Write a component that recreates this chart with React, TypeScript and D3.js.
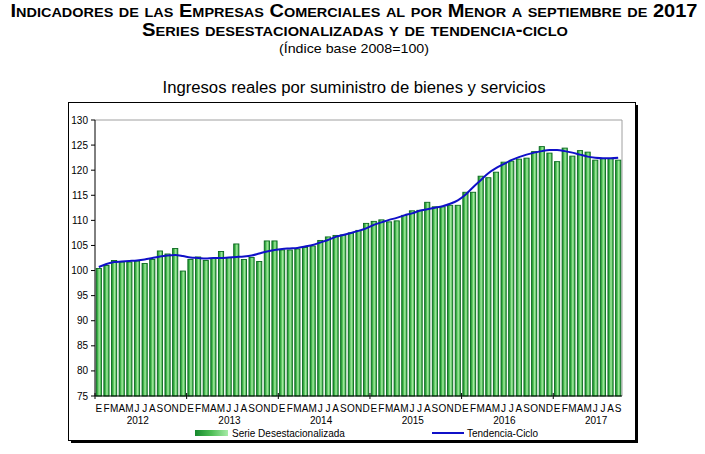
import React from 'react';
import * as d3 from 'd3';

const years = ['2012', '2013', '2014', '2015', '2016', '2017'];
const monthLetters = ['E', 'F', 'M', 'A', 'M', 'J', 'J', 'A', 'S', 'O', 'N', 'D'];
const yTicks = [75, 80, 85, 90, 95, 100, 105, 110, 115, 120, 125, 130];

// Serie desestacionalizada, enero 2012 - septiembre 2017
const serieDesest = [
  100.4, 101.0, 102.0, 101.7, 101.7, 101.9, 101.4, 102.2, 103.9, 103.3, 104.4, 99.9,
  102.2, 102.7, 102.0, 102.4, 103.8, 102.6, 105.3, 102.2, 102.6, 101.8, 105.9, 105.9,
  104.1, 104.1, 104.3, 104.6, 104.9, 106.0, 106.7, 107.0, 107.1, 107.5, 108.0, 109.4,
  109.8, 110.1, 109.7, 109.9, 111.0, 111.9, 112.0, 113.6, 112.7, 112.7, 113.0, 113.0,
  115.6, 115.6, 118.8, 118.5, 119.6, 121.6, 121.8, 122.2, 122.4, 123.7, 124.7, 123.4,
  121.7, 124.4, 122.8, 123.9, 123.6, 122.0, 122.3, 122.3, 122.0,
];

// Tendencia-ciclo
const tendencia = [
  100.7, 101.3, 101.7, 101.8, 101.9, 102.0, 102.2, 102.5, 102.8, 103.0, 103.1, 102.9,
  102.6, 102.5, 102.4, 102.5, 102.5, 102.6, 102.7, 102.8, 103.0, 103.4, 103.8, 104.1,
  104.3, 104.4, 104.5, 104.8, 105.1, 105.6, 106.1, 106.7, 107.1, 107.5, 107.9, 108.4,
  109.1, 109.6, 110.1, 110.5, 111.0, 111.4, 111.9, 112.2, 112.5, 112.8, 113.3, 114.0,
  115.1, 116.6, 118.0, 119.4, 120.4, 121.2, 122.0, 122.6, 123.1, 123.5, 123.8, 124.0,
  124.0, 123.8, 123.5, 123.1, 122.7, 122.5, 122.4, 122.4, 122.5,
];

const FONT = "'Liberation Sans', Arial, sans-serif";

export default function App() {
  const W = 705;
  const H = 454;
  const plot = { l: 95, t: 120, r: 622, b: 396 };
  const n = serieDesest.length;

  const x = d3
    .scaleBand<number>()
    .domain(d3.range(n))
    .range([plot.l, plot.r])
    .paddingInner(0.32)
    .paddingOuter(0.16);
  const step = x.step();
  const bw = x.bandwidth();
  const y = d3.scaleLinear().domain([75, 130]).range([plot.b, plot.t]);

  const line = d3
    .line<number>()
    .x((_, i) => (x(i) as number) + bw / 2)
    .y((d) => y(d))
    .curve(d3.curveMonotoneX);

  const boundary = (i: number) => plot.l + i * step;

  return (
    <svg
      width={W}
      height={H}
      style={{ position: 'absolute', left: 0, top: 0, background: '#fff' }}
      fontFamily={FONT}
    >
      <defs>
        <linearGradient id="barGrad" x1="0" x2="1" y1="0" y2="0">
          <stop offset="0%" stopColor="#15882c" />
          <stop offset="30%" stopColor="#45b84c" />
          <stop offset="58%" stopColor="#a2e8a0" />
          <stop offset="82%" stopColor="#62c866" />
          <stop offset="100%" stopColor="#2a9e3a" />
        </linearGradient>
        <linearGradient id="legGrad" x1="0" x2="1" y1="0" y2="0">
          <stop offset="0%" stopColor="#15882c" />
          <stop offset="50%" stopColor="#4fbe56" />
          <stop offset="100%" stopColor="#a8eca8" />
        </linearGradient>
      </defs>

      {/* Titles */}
      <text
        x={354}
        y={17}
        textAnchor="middle"
        fontWeight="bold"
        fontSize={18}
        style={{ fontVariant: 'small-caps' }}
        textLength={687}
        lengthAdjust="spacingAndGlyphs"
        fill="#000"
      >
        Indicadores de las Empresas Comerciales al por Menor a septiembre de 2017
      </text>
      <text
        x={355}
        y={36}
        textAnchor="middle"
        fontWeight="bold"
        fontSize={18}
        style={{ fontVariant: 'small-caps' }}
        textLength={426}
        lengthAdjust="spacingAndGlyphs"
        fill="#000"
      >
        Series desestacionalizadas y de tendencia-ciclo
      </text>
      <text x={354} y={53} textAnchor="middle" fontSize={13} textLength={150} lengthAdjust="spacingAndGlyphs">
        (Índice base 2008=100)
      </text>
      <text x={354} y={93} textAnchor="middle" fontSize={16} textLength={383} lengthAdjust="spacingAndGlyphs">
        Ingresos reales por suministro de bienes y servicios
      </text>

      {/* Outer frame with shadow */}
      <rect x={71} y={105} width={567} height={338} fill="#000" />
      <rect x={68.5} y={102.5} width={567} height={338} fill="#fff" stroke="#000" strokeWidth={1} />

      {/* Plot border (gray top/right) */}
      <line x1={plot.l} x2={plot.r} y1={plot.t} y2={plot.t} stroke="#a0a0a0" strokeWidth={1} />
      <line x1={plot.r} x2={plot.r} y1={plot.t} y2={plot.b} stroke="#a0a0a0" strokeWidth={1} />

      {/* Bars */}
      {serieDesest.map((v, i) => (
        <rect
          key={i}
          x={x(i)}
          y={y(v)}
          width={bw}
          height={y(75) - y(v)}
          fill="url(#barGrad)"
          stroke="#0b6a20"
          strokeWidth={0.9}
        />
      ))}

      {/* Trend line */}
      <path d={line(tendencia) || ''} fill="none" stroke="#1010c8" strokeWidth={2} />

      {/* Y axis */}
      <line x1={plot.l} x2={plot.l} y1={plot.t} y2={plot.b} stroke="#000" strokeWidth={1} />
      {yTicks.map((t) => (
        <g key={t}>
          <line x1={plot.l - 4} x2={plot.l} y1={y(t)} y2={y(t)} stroke="#000" />
          <text x={plot.l - 7} y={y(t) + 3.5} textAnchor="end" fontSize={10}>
            {t}
          </text>
        </g>
      ))}

      {/* X axis */}
      <line x1={plot.l} x2={plot.r} y1={plot.b} y2={plot.b} stroke="#000" strokeWidth={1} />
      {d3.range(0, n + 1, 12).map((i) => (
        <line key={i} x1={boundary(i)} x2={boundary(i)} y1={plot.b - 3} y2={plot.b + 3} stroke="#000" />
      ))}
      {serieDesest.map((_, i) => (
        <text key={i} x={(x(i) as number) + bw / 2} y={412} textAnchor="middle" fontSize={10}>
          {monthLetters[i % 12]}
        </text>
      ))}
      {years.map((yr, k) => (
        <text key={yr} x={boundary(k * 12) + 6 * step - 3} y={424} textAnchor="middle" fontSize={10}>
          {yr}
        </text>
      ))}

      {/* Legend */}
      <rect x={195} y={430} width={33} height={6} fill="url(#legGrad)" />
      <text x={232} y={437} fontSize={10}>
        Serie Desestacionalizada
      </text>
      <line x1={432} x2={464} y1={433} y2={433} stroke="#1010c8" strokeWidth={2} />
      <text x={467} y={437} fontSize={10}>
        Tendencia-Ciclo
      </text>
    </svg>
  );
}
